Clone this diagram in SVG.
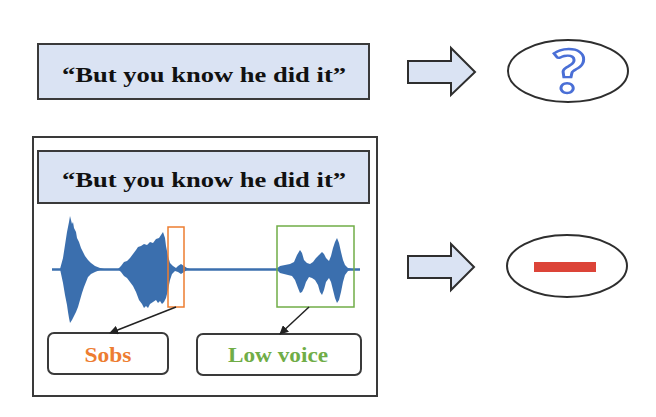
<svg xmlns="http://www.w3.org/2000/svg" width="656" height="417" viewBox="0 0 656 417">
<style>
.box{fill:#dae3f3;stroke:#3a3a3a;stroke-width:2}
.title{font-family:"Liberation Serif",serif;font-weight:bold;font-size:22px;fill:#111;text-anchor:middle}
.lbl{font-family:"Liberation Serif",serif;font-weight:bold;font-size:20px;text-anchor:middle}
.rbox{fill:#fff;stroke:#3a3a3a;stroke-width:2}
.barrow{fill:#dae3f3;stroke:#2e2e2e;stroke-width:2;stroke-linejoin:miter}
.oval{fill:#fff;stroke:#2e2e2e;stroke-width:2}
.wave{fill:#3b6fae}
.conn{stroke:#222;stroke-width:1.5;fill:none;marker-end:url(#ah)}
</style>
<defs>
<marker id="ah" viewBox="0 0 10 10" refX="9" refY="5" markerWidth="6" markerHeight="6" orient="auto">
<path d="M0,0 L10,5 L0,10 Z" fill="#222"/>
</marker>
</defs>
<rect width="656" height="417" fill="#fff"/>

<g id="text-input">
<rect class="box" x="38" y="44" width="331" height="55"/>
<text class="title" x="204" y="82" textLength="284" lengthAdjust="spacingAndGlyphs">“But you know he did it”</text>
</g>

<g id="arrow-top">
<polygon class="barrow" points="408,61 451,61 451,48 475,72 451,95 451,83 408,83"/>
</g>

<g id="result-unknown">
<ellipse class="oval" cx="568" cy="71" rx="60" ry="31"/>
<text x="0" y="93" transform="translate(569,0) scale(1.25,1)" font-family="Lato,'Open Sans',sans-serif" font-weight="900" font-size="60" text-anchor="middle" fill="#fff" stroke="#4a6fd6" stroke-width="2.4">?</text>
</g>

<g id="multimodal-input">
<rect x="33" y="137" width="344" height="259" fill="#fff" stroke="#3a3a3a" stroke-width="2"/>
<rect class="box" x="38" y="151" width="331" height="52"/>
<text class="title" x="204" y="187" textLength="284" lengthAdjust="spacingAndGlyphs">“But you know he did it”</text>
<g id="waveform">
<line x1="52" y1="269.5" x2="360" y2="269.5" stroke="#3b6fae" stroke-width="2.5"/>
<path class="wave" d="M60,269 L63,258 L65,245 L67,232 L69,222 L70,216 L71,220 L72,224 L73,222 L74,228 L76,232 L77,238 L79,242 L81,248 L83,252 L85,256 L88,260 L91,263 L95,266 L100,268 L104,269 L100,270 L95,272 L91,274 L88,277 L86,282 L84,287 L82,293 L80,300 L78,307 L76,312 L74,316 L72,320 L70,323 L69,318 L68,312 L67,305 L65,295 L63,283 Z"/>
<path class="wave" d="M118,269 L121,266 L124,262 L127,261 L130,258 L133,254 L136,250 L138,247 L141,246 L144,244 L147,245 L150,242 L153,243 L156,239 L159,238 L161,235 L163,232 L165,238 L166,246 L168,256 L170,263 L173,266 L176,268 L178,266 L181,264 L184,266 L187,268 L190,269 L187,270 L184,272 L181,274 L178,272 L175,271 L172,274 L170,280 L168,290 L166,298 L164,302 L162,304 L160,301 L158,303 L156,300 L153,302 L150,304 L148,308 L146,306 L144,308 L142,304 L139,300 L136,292 L133,286 L130,282 L127,278 L124,276 L121,272 Z"/>
<path class="wave" d="M276,269 L280,266 L285,265 L290,264 L294,262 L297,255 L300,250 L302,253 L304,260 L307,263 L310,264 L313,262 L316,258 L319,255 L322,252 L324,254 L326,258 L329,261 L331,256 L333,248 L335,242 L337,238 L339,243 L341,252 L343,260 L345,265 L348,268 L352,269 L348,271 L345,275 L343,282 L341,292 L339,300 L337,303 L335,298 L333,290 L331,282 L329,278 L326,282 L324,290 L322,295 L320,292 L318,285 L315,280 L312,278 L309,277 L306,282 L304,288 L302,292 L300,293 L298,288 L295,280 L292,276 L288,275 L284,274 L280,273 Z"/>
</g>
<rect id="sobs-highlight" x="168" y="227" width="16" height="80" fill="none" stroke="#ed7d31" stroke-width="1.5"/>
<rect id="lowvoice-highlight" x="277" y="226" width="77" height="81" fill="none" stroke="#70ad47" stroke-width="1.5"/>
<g id="sobs">
<rect class="rbox" x="48" y="333" width="120" height="41" rx="6"/>
<text class="lbl" x="108" y="362" fill="#ed7d31" textLength="47" lengthAdjust="spacingAndGlyphs">Sobs</text>
</g>
<g id="low-voice">
<rect class="rbox" x="197" y="334" width="164" height="41" rx="6"/>
<text class="lbl" x="278" y="362" fill="#70ad47" textLength="100" lengthAdjust="spacingAndGlyphs">Low voice</text>
</g>
</g>

<g id="arrow-bottom">
<polygon class="barrow" points="408,256 451,256 451,244 474,267 451,290 451,278 408,278"/>
</g>

<g id="result-negative">
<ellipse class="oval" cx="567" cy="266" rx="60" ry="31"/>
<rect x="534" y="262" width="62" height="10" fill="#dc4438"/>
</g>

<g id="connectors">
<line class="conn" x1="176" y1="307" x2="110" y2="333"/>
<line class="conn" x1="309" y1="307" x2="280" y2="334"/>
</g>
</svg>
